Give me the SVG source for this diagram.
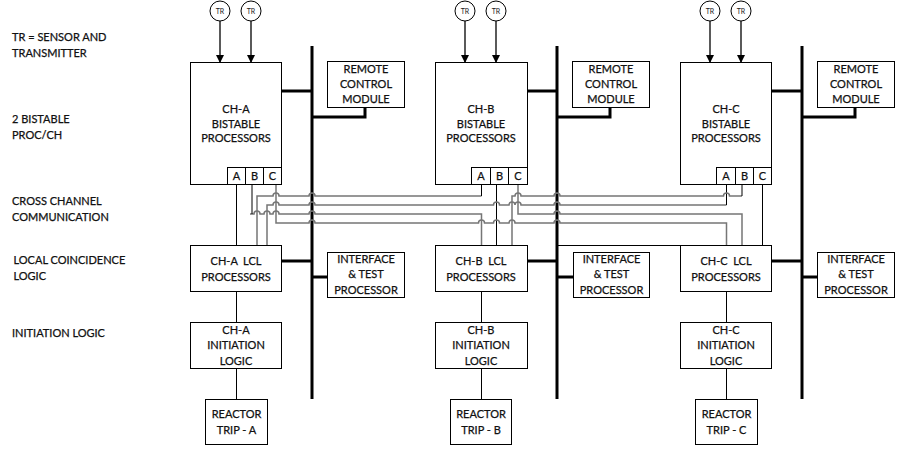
<svg xmlns="http://www.w3.org/2000/svg" width="921" height="456" viewBox="0 0 921 456">
  <style>
    .bg { fill: #ffffff; }
    .box { fill: #ffffff; stroke: #000000; stroke-width: 1; }
    .t { font-family: Lato, "Liberation Sans", sans-serif; font-size: 11px; fill: #111111; stroke: #111111; stroke-width: 0.25; text-anchor: middle; }
    .lbl { font-family: Lato, "Liberation Sans", sans-serif; font-size: 11px; fill: #111111; stroke: #111111; stroke-width: 0.25; }
    .tr { font-family: Lato, "Liberation Sans", sans-serif; font-size: 7px; fill: #1a1a1a; text-anchor: middle; }
    .bus { stroke: #000000; stroke-width: 3; fill: none; }
    .wire { stroke: #000000; stroke-width: 1; fill: none; }
    .xc { stroke: #767676; stroke-width: 1.5; fill: none; }
    .sel { stroke: #1f3a6e; stroke-width: 1; fill: none; }
    .arrow { stroke: #000000; stroke-width: 1.3; fill: none; marker-end: url(#head); }
  </style>
  <defs>
    <marker id="head" markerUnits="userSpaceOnUse" markerWidth="8" markerHeight="8" refX="7" refY="4" orient="auto">
      <path d="M0,0 L8,4 L0,8 z" fill="#000000"/>
    </marker>
    <!-- pair of sensor/transmitters feeding one bistable box -->
    <g id="sensorPair">
      <circle cx="220" cy="11" r="10" fill="#ffffff" stroke="#000000" stroke-width="1"/>
      <circle cx="251" cy="11" r="10" fill="#ffffff" stroke="#000000" stroke-width="1"/>
      <text class="tr" x="220" y="13.5">TR</text>
      <text class="tr" x="251" y="13.5">TR</text>
      <path class="arrow" d="M220,21 V62"/>
      <path class="arrow" d="M251,21 V62"/>
    </g>
  </defs>

  <rect class="bg" x="0" y="0" width="921" height="456"/>

  <!-- row labels -->
  <g id="row-labels">
    <text class="lbl" x="12" y="40.5">TR = SENSOR AND</text>
    <text class="lbl" x="12" y="56.5">TRANSMITTER</text>
    <text class="lbl" x="12" y="122.5">2 BISTABLE</text>
    <text class="lbl" x="12" y="138.5">PROC/CH</text>
    <text class="lbl" x="12" y="204.5">CROSS CHANNEL</text>
    <text class="lbl" x="12" y="220.5">COMMUNICATION</text>
    <text class="lbl" x="13.5" y="264">LOCAL COINCIDENCE</text>
    <text class="lbl" x="13.5" y="280">LOGIC</text>
    <text class="lbl" x="12" y="337">INITIATION LOGIC</text>
  </g>

  <!-- connectors -->
  <g id="connectors">
    <!-- sensor inputs -->
    <use href="#sensorPair"/>
    <use href="#sensorPair" transform="translate(245,0)"/>
    <use href="#sensorPair" transform="translate(490,0)"/>

    <!-- data buses and their taps -->
    <g id="bus-a">
      <path class="bus" d="M312,46 V399"/>
      <path class="bus" d="M282,91 H312"/>
      <path class="bus" d="M365,107.5 V117 H312"/>
      <path class="bus" d="M282,261 H312"/>
      <path class="bus" d="M312,277 H328"/>
    </g>
    <g id="bus-b">
      <path class="bus" d="M557,46 V399"/>
      <path class="bus" d="M527,91 H557"/>
      <path class="bus" d="M610,107.5 V117 H557"/>
      <path class="bus" d="M527,261 H557"/>
      <path class="bus" d="M557,277 H573"/>
      <path class="wire" d="M557,245.5 H680"/>
    </g>
    <g id="bus-c">
      <path class="bus" d="M802,46 V399"/>
      <path class="bus" d="M772,91 H802"/>
      <path class="bus" d="M855,107.5 V117 H802"/>
      <path class="bus" d="M772,261 H802"/>
      <path class="bus" d="M802,277 H818"/>
    </g>

    <!-- selector feeds inside each bistable box -->
    <path class="sel" d="M257.5,133 V167 M237,167 V154.5 H276 V167"/>
    <path class="sel" d="M502.5,133 V167 M481.5,167 V154.5 H520 V167"/>
    <path class="sel" d="M747.5,133 V167 M726.5,167 V154.5 H765 V167"/>

    <!-- own-channel trip signals -->
    <path class="wire" d="M236.5,184 V245 M236.5,292 V322 M236.5,369 V399"/>
    <path class="wire" d="M496.5,184 V245 M481.5,292 V322 M481.5,369 V399"/>
    <path class="wire" d="M762.5,184 V245 M726.5,292 V322 M726.5,369 V399"/>

    <!-- cross channel routes (hops over crossed lines) -->
    <path class="xc" d="M257,245 V196 H273 a3,3 0 0 1 6,0 H309 a3,3 0 0 1 6,0 H481.5"/>
    <path class="wire" d="M481.5,184 V196"/>
    <path class="xc" d="M267,245 V205 H273 a3,3 0 0 1 6,0 H309 a3,3 0 0 1 6,0 H493.5 a3,3 0 0 1 6,0 H509 a3,3 0 0 1 6,0 H515 a3,3 0 0 1 6,0 H554 a3,3 0 0 1 6,0 H726.5"/>
    <path class="wire" d="M726.5,184 V205"/>
    <path class="xc" d="M250,214 H254 a3,3 0 0 1 6,0 H264 a3,3 0 0 1 6,0 H273 a3,3 0 0 1 6,0 H309 a3,3 0 0 1 6,0 H481.5 V245"/>
    <path class="wire" d="M252,184 V214"/>
    <path class="xc" d="M518,184 V214 H554 a3,3 0 0 1 6,0 H742 V245"/>
    <path class="xc" d="M512,245 V196 H515 a3,3 0 0 1 6,0 H554 a3,3 0 0 1 6,0 H723.5 a3,3 0 0 1 6,0 H742"/>
    <path class="wire" d="M742,184 V196"/>
    <path class="xc" d="M276,184 V223 H309 a3,3 0 0 1 6,0 H478.5 a3,3 0 0 1 6,0 H493.5 a3,3 0 0 1 6,0 H509 a3,3 0 0 1 6,0 H554 a3,3 0 0 1 6,0 H726.5 V245"/>
  </g>

  <!-- channel A -->
  <g id="ch-a-bistable">
    <rect class="box" x="190.5" y="62.5" width="91" height="122"/>
    <text class="t" x="236" y="113">CH-A</text>
    <text class="t" x="236" y="127.5">BISTABLE</text>
    <text class="t" x="236" y="142">PROCESSORS</text>
  </g>
  <g id="ch-a-outputs">
    <rect class="box" x="227.5" y="167.5" width="18" height="17"/>
    <rect class="box" x="245.5" y="167.5" width="18" height="17"/>
    <rect class="box" x="263.5" y="167.5" width="18" height="17"/>
    <text class="t" x="236.5" y="180">A</text>
    <text class="t" x="254.5" y="180">B</text>
    <text class="t" x="272.5" y="180">C</text>
  </g>
  <g id="ch-a-remote">
    <rect class="box" x="327.5" y="61.5" width="77" height="46"/>
    <text class="t" x="366" y="73">REMOTE</text>
    <text class="t" x="366" y="88">CONTROL</text>
    <text class="t" x="366" y="103">MODULE</text>
  </g>
  <g id="ch-a-lcl">
    <rect class="box" x="190.5" y="245.5" width="91" height="46"/>
    <text class="t" x="236" y="264.5" xml:space="preserve">CH-A  LCL</text>
    <text class="t" x="236" y="280.5">PROCESSORS</text>
  </g>
  <g id="ch-a-interface">
    <rect class="box" x="327.5" y="252.5" width="77" height="45"/>
    <text class="t" x="366" y="263">INTERFACE</text>
    <text class="t" x="366" y="278">&amp; TEST</text>
    <text class="t" x="366" y="293.5">PROCESSOR</text>
  </g>
  <g id="ch-a-initiation">
    <rect class="box" x="190.5" y="322.5" width="91" height="46"/>
    <text class="t" x="236" y="334">CH-A</text>
    <text class="t" x="236" y="349">INITIATION</text>
    <text class="t" x="236" y="364.5">LOGIC</text>
  </g>
  <g id="ch-a-trip">
    <rect class="box" x="205.5" y="399.5" width="62" height="45"/>
    <text class="t" x="236.5" y="418">REACTOR</text>
    <text class="t" x="236.5" y="434">TRIP - A</text>
  </g>

  <!-- channel B -->
  <g id="ch-b-bistable">
    <rect class="box" x="435.5" y="62.5" width="92" height="122"/>
    <text class="t" x="481" y="113">CH-B</text>
    <text class="t" x="481" y="127.5">BISTABLE</text>
    <text class="t" x="481" y="142">PROCESSORS</text>
  </g>
  <g id="ch-b-outputs">
    <rect class="box" x="471.5" y="167.5" width="19" height="17"/>
    <rect class="box" x="490.5" y="167.5" width="18" height="17"/>
    <rect class="box" x="508.5" y="167.5" width="19" height="17"/>
    <text class="t" x="481" y="180">A</text>
    <text class="t" x="499.5" y="180">B</text>
    <text class="t" x="518" y="180">C</text>
  </g>
  <g id="ch-b-remote">
    <rect class="box" x="572.5" y="61.5" width="77" height="46"/>
    <text class="t" x="611" y="73">REMOTE</text>
    <text class="t" x="611" y="88">CONTROL</text>
    <text class="t" x="611" y="103">MODULE</text>
  </g>
  <g id="ch-b-lcl">
    <rect class="box" x="435.5" y="245.5" width="92" height="46"/>
    <text class="t" x="481" y="264.5" xml:space="preserve">CH-B  LCL</text>
    <text class="t" x="481" y="280.5">PROCESSORS</text>
  </g>
  <g id="ch-b-interface">
    <rect class="box" x="573.5" y="252.5" width="76" height="45"/>
    <text class="t" x="611.5" y="263">INTERFACE</text>
    <text class="t" x="611.5" y="278">&amp; TEST</text>
    <text class="t" x="611.5" y="293.5">PROCESSOR</text>
  </g>
  <g id="ch-b-initiation">
    <rect class="box" x="435.5" y="322.5" width="92" height="46"/>
    <text class="t" x="481" y="334">CH-B</text>
    <text class="t" x="481" y="349">INITIATION</text>
    <text class="t" x="481" y="364.5">LOGIC</text>
  </g>
  <g id="ch-b-trip">
    <rect class="box" x="450.5" y="399.5" width="61" height="45"/>
    <text class="t" x="481" y="418">REACTOR</text>
    <text class="t" x="481" y="434">TRIP - B</text>
  </g>

  <!-- channel C -->
  <g id="ch-c-bistable">
    <rect class="box" x="680.5" y="62.5" width="91" height="122"/>
    <text class="t" x="726" y="113">CH-C</text>
    <text class="t" x="726" y="127.5">BISTABLE</text>
    <text class="t" x="726" y="142">PROCESSORS</text>
  </g>
  <g id="ch-c-outputs">
    <rect class="box" x="716.5" y="167.5" width="19" height="17"/>
    <rect class="box" x="735.5" y="167.5" width="18" height="17"/>
    <rect class="box" x="753.5" y="167.5" width="18" height="17"/>
    <text class="t" x="726" y="180">A</text>
    <text class="t" x="744.5" y="180">B</text>
    <text class="t" x="762.5" y="180">C</text>
  </g>
  <g id="ch-c-remote">
    <rect class="box" x="817.5" y="61.5" width="77" height="46"/>
    <text class="t" x="856" y="73">REMOTE</text>
    <text class="t" x="856" y="88">CONTROL</text>
    <text class="t" x="856" y="103">MODULE</text>
  </g>
  <g id="ch-c-lcl">
    <rect class="box" x="680.5" y="245.5" width="91" height="46"/>
    <text class="t" x="726" y="264.5" xml:space="preserve">CH-C  LCL</text>
    <text class="t" x="726" y="280.5">PROCESSORS</text>
  </g>
  <g id="ch-c-interface">
    <rect class="box" x="817.5" y="252.5" width="77" height="45"/>
    <text class="t" x="856" y="263">INTERFACE</text>
    <text class="t" x="856" y="278">&amp; TEST</text>
    <text class="t" x="856" y="293.5">PROCESSOR</text>
  </g>
  <g id="ch-c-initiation">
    <rect class="box" x="680.5" y="322.5" width="91" height="46"/>
    <text class="t" x="726" y="334">CH-C</text>
    <text class="t" x="726" y="349">INITIATION</text>
    <text class="t" x="726" y="364.5">LOGIC</text>
  </g>
  <g id="ch-c-trip">
    <rect class="box" x="695.5" y="399.5" width="62" height="45"/>
    <text class="t" x="726.5" y="418">REACTOR</text>
    <text class="t" x="726.5" y="434">TRIP - C</text>
  </g>
</svg>
